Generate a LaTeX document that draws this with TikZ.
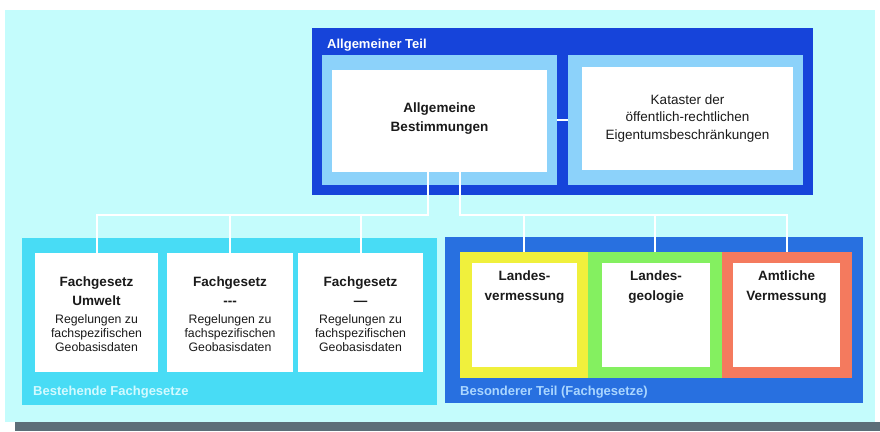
\documentclass[tikz,border=0pt]{standalone}
\usepackage{fontspec}
\setmainfont{Liberation Sans}
\usetikzlibrary{fit}
\definecolor{bgcyan}{RGB}{196,252,252}
\definecolor{shadow}{RGB}{92,110,120}
\definecolor{topblue}{RGB}{22,68,218}
\definecolor{lightblue}{RGB}{140,210,250}
\definecolor{grpcyan}{RGB}{72,220,245}
\definecolor{grpblue}{RGB}{40,112,224}
\definecolor{fyellow}{RGB}{240,240,60}
\definecolor{fgreen}{RGB}{132,240,96}
\definecolor{fred}{RGB}{244,122,94}
\definecolor{txt}{RGB}{26,26,26}
\definecolor{lblcyan}{RGB}{210,250,255}
\definecolor{lblblue}{RGB}{170,214,255}
\begin{document}
\begin{tikzpicture}[x=1pt,y=-1pt,
  area/.style={inner sep=0pt, outer sep=0pt, draw=none},
  conn/.style={draw=white, line width=2pt},
  ttl/.style={font=\fontsize{13}{15}\selectfont\bfseries, inner sep=0pt, anchor=west},
  head/.style={font=\fontsize{13.5}{19}\selectfont\bfseries, align=center, inner sep=0pt, text=txt},
  headb/.style={font=\fontsize{13.5}{20}\selectfont\bfseries, align=center, inner sep=0pt, text=txt, anchor=north},
  desc/.style={font=\fontsize{12.3}{14}\selectfont, align=center, inner sep=0pt, text=txt, anchor=north},
]
\useasboundingbox (0,0) rectangle (880,431);
\fill[white] (0,0) rectangle (880,431);
\node[area, fill=bgcyan, fit={(5,10) (875,422)}] (bg) {};
\node[area, fill=shadow, fit={(15,422) (880,431)}] (shadowbar) {};

% Allgemeiner Teil
\node[area, fill=topblue, fit={(312,28) (813,195)}] (allg) {};
\node[ttl, text=white] (allgT) at (327,45) {Allgemeiner Teil};
\node[area, fill=lightblue, fit={(322,55) (557,185)}] (allgP) {};
\node[area, fill=lightblue, fit={(568,55) (803,185)}] (katP) {};
\node[area, fill=white, fit={(332,70) (547,172)}] (allgW) {};
\node[area, fill=white, fit={(582,67) (793,170)}] (katW) {};
\node[head] (allgText) at ([yshift=2pt]allgW.center) {Allgemeine\\Bestimmungen};
\node[font=\fontsize{13.5}{17.5}\selectfont, align=center, inner sep=0pt, text=txt] (katText) at (katW.center) {Kataster der\\öffentlich-rechtlichen\\Eigentumsbeschränkungen};

% Bestehende Fachgesetze
\node[area, fill=grpcyan, fit={(22,238) (437,405)}] (bestG) {};
\node[area, fill=white, fit={(35,253) (158,372)}] (bf1) {};
\node[area, fill=white, fit={(167,253) (293,372)}] (bf2) {};
\node[area, fill=white, fit={(298,253) (423,372)}] (bf3) {};
\node[head, anchor=north] (bf1h) at ([yshift=-24pt]bf1.north) {Fachgesetz\\Umwelt};
\node[head, anchor=north] (bf2h) at ([yshift=-24pt]bf2.north) {Fachgesetz\\-{}-{}-};
\node[head, anchor=north] (bf3h) at ([yshift=-24pt]bf3.north) {Fachgesetz\\—};
\node[desc] (bf1d) at ([yshift=-61pt]bf1.north) {Regelungen zu\\fachspezifischen\\Geobasisdaten};
\node[desc] (bf2d) at ([yshift=-61pt]bf2.north) {Regelungen zu\\fachspezifischen\\Geobasisdaten};
\node[desc] (bf3d) at ([yshift=-61pt]bf3.north) {Regelungen zu\\fachspezifischen\\Geobasisdaten};
\node[ttl, text=lblcyan] (bestT) at (33,392) {Bestehende Fachgesetze};

% Besonderer Teil
\node[area, fill=grpblue, fit={(445,237) (863,403)}] (besG) {};
\node[area, fill=fyellow, fit={(460,252) (588,378)}] (lv) {};
\node[area, fill=fgreen, fit={(588,252) (722,378)}] (lg) {};
\node[area, fill=fred, fit={(722,252) (852,378)}] (av) {};
\node[area, fill=white, fit={(472,263) (577,367)}] (lvW) {};
\node[area, fill=white, fit={(602,263) (710,367)}] (lgW) {};
\node[area, fill=white, fit={(733,263) (840,367)}] (avW) {};
\node[headb] (lvT) at ([yshift=-8pt]lvW.north) {Landes-\\vermessung};
\node[headb] (lgT) at ([yshift=-8pt]lgW.north) {Landes-\\geologie};
\node[headb] (avT) at ([yshift=-8pt]avW.north) {Amtliche\\Vermessung};
\node[ttl, text=lblblue] (besT) at (460,392) {Besonderer Teil (Fachgesetze)};

% connectors
\draw[conn] (allgP.east) -- (katP.west);
\coordinate (busL) at (428,215);
\coordinate (busR) at (460,215);
\draw[conn] (allgW.south -| busL) -- (busL) -| (bf1.north);
\draw[conn] (busL) -| (bf2.north);
\draw[conn] (busL) -| (bf3.north);
\draw[conn] (allgW.south -| busR) -- (busR) -| (av.north);
\draw[conn] (busR) -| (lv.north);
\draw[conn] (busR) -| (lg.north);
\end{tikzpicture}
\end{document}
